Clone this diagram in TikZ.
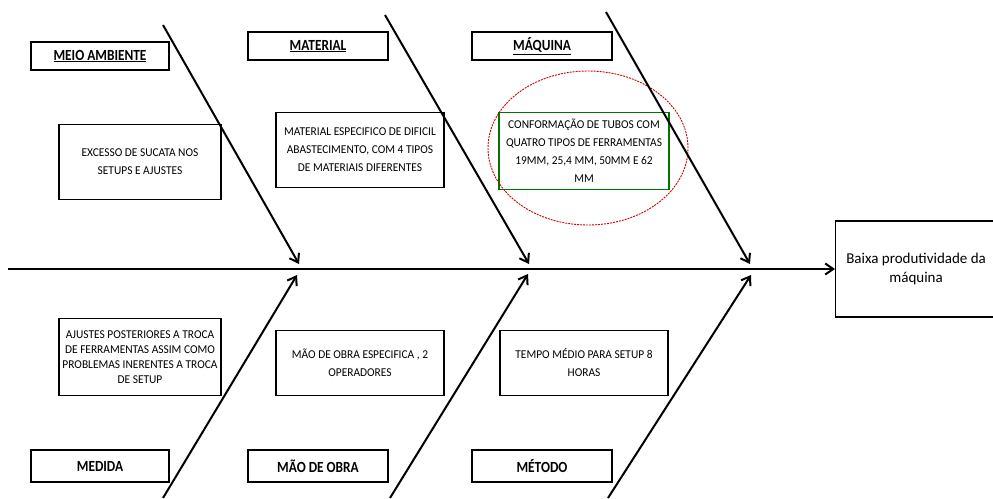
\documentclass[tikz,border=0pt]{standalone}
\usepackage{fontspec}
\setmainfont{Carlito}
\newfontfamily\causefont[FakeStretch=0.95]{Carlito}
\newfontfamily\catfont[FakeStretch=0.86]{Carlito}
\usetikzlibrary{arrows.meta,shapes.geometric}

\begin{document}
\begin{tikzpicture}[
    x=1pt, y=-1pt,
    catbox/.style={draw, line width=1.2pt, inner sep=0pt, align=center, minimum width=140pt, minimum height=28pt, font=\catfont\bfseries\fontsize{15.5}{17}\selectfont},
    causebox/.style={draw, line width=1.2pt, inner sep=2pt, align=center, minimum width=166pt, minimum height=75pt, font=\causefont\fontsize{12}{18}\selectfont},
    effectbox/.style={draw, line width=1.2pt, inner sep=2pt, align=center, minimum width=161pt, minimum height=96pt, font=\fontsize{15}{19}\selectfont},
    bone/.style={-{Straight Barb[length=8pt, width=11pt]}, line width=2pt},
    mark ring/.style={draw=red!80!black, dashed, dash pattern=on 2pt off 1pt, line width=0.9pt, ellipse, minimum width=200pt, minimum height=154pt}
]
\useasboundingbox (0,0) rectangle (993,498);

\node[catbox, minimum width=138pt] (ambiente) at (100,56) {\underline{MEIO AMBIENTE}};
\node[catbox] (material) at (318,46) {\underline{MATERIAL}};
\node[catbox] (maquina) at (542,46) {\underline{MÁQUINA}};
\node[catbox, minimum width=138pt, minimum height=32pt] (medida) at (100,466) {MEDIDA};
\node[catbox, minimum height=32pt] (maoobra) at (318,466) {MÃO DE OBRA};
\node[catbox, minimum height=32pt] (metodo) at (542,466) {MÉTODO};

\node[causebox, minimum width=162pt] (sucata) at (140,162) {EXCESSO DE SUCATA NOS\\SETUPS E AJUSTES};
\node[causebox, minimum width=168pt] (especifico) at (360,150) {MATERIAL ESPECIFICO DE DIFICIL\\ABASTECIMENTO, COM 4 TIPOS\\DE MATERIAIS DIFERENTES};
\node[causebox, draw=green!45!black, line width=1.5pt, minimum width=170pt, minimum height=77pt] (tubos) at (584,151) {CONFORMAÇÃO DE TUBOS COM\\QUATRO TIPOS DE FERRAMENTAS\\19MM, 25,4 MM, 50MM E 62\\MM};
\node[mark ring] (destaque) at (588,148) {};
\node[causebox, minimum width=162pt, minimum height=77pt, font=\causefont\fontsize{12}{15}\selectfont] (ajustes) at (140,357) {AJUSTES POSTERIORES A TROCA\\DE FERRAMENTAS ASSIM COMO\\PROBLEMAS INERENTES A TROCA\\DE SETUP};
\node[causebox, minimum width=168pt, minimum height=65pt] (operadores) at (360,363) {MÃO DE OBRA ESPECIFICA , 2\\OPERADORES};
\node[causebox, minimum width=168pt, minimum height=65pt] (tempo) at (584,363) {TEMPO MÉDIO PARA SETUP 8\\HORAS};

\node[effectbox, anchor=west] (efeito) at (835,269) {Baixa produtividade da\\máquina};

\coordinate (cauda) at (8,269);
\coordinate (amb-a) at (163,25);
\coordinate (amb-b) at (299,264);
\coordinate (mat-a) at (385,15);
\coordinate (mat-b) at (529,264);
\coordinate (maq-a) at (606,12);
\coordinate (maq-b) at (750,264);
\coordinate (med-a) at (163,498);
\coordinate (med-b) at (297,275);
\coordinate (mao-a) at (390,498);
\coordinate (mao-b) at (528,274);
\coordinate (met-a) at (608,498);
\coordinate (met-b) at (751,275);

\draw[bone] (cauda) -- (efeito.west);
\draw[bone] (amb-a) -- (amb-b);
\draw[bone] (mat-a) -- (mat-b);
\draw[bone] (maq-a) -- (maq-b);
\draw[bone] (med-a) -- (med-b);
\draw[bone] (mao-a) -- (mao-b);
\draw[bone] (met-a) -- (met-b);
\end{tikzpicture}
\end{document}
